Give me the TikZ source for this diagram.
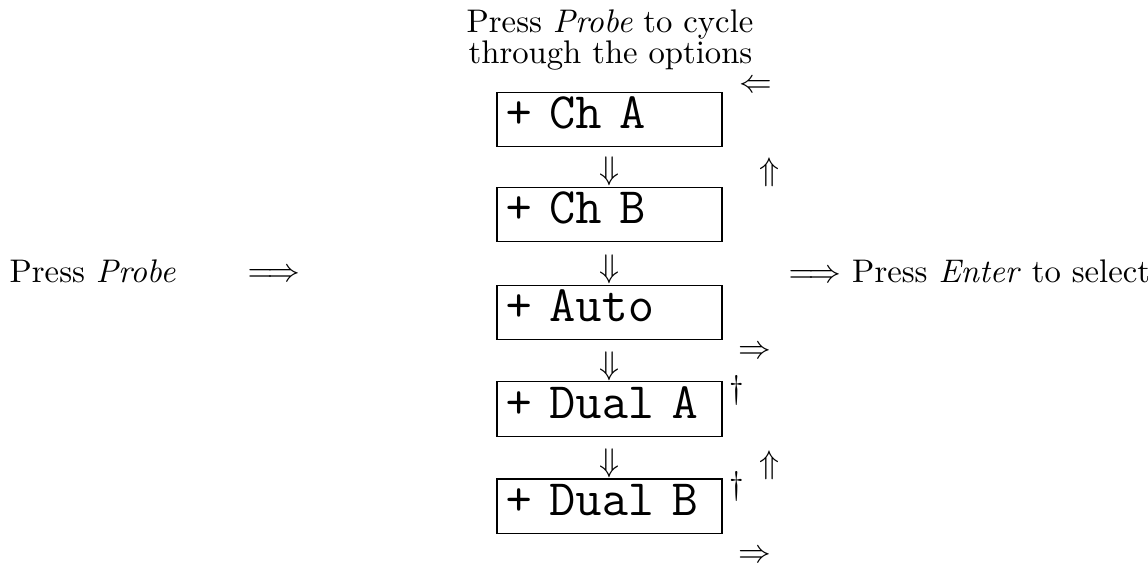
\documentclass[tikz,border=0pt]{standalone}
\font\optfont=cmtt12 at 15.6pt
\begin{document}
\begin{tikzpicture}[x=0.3058pt,y=-0.3058pt,
  optbox/.style={draw, line width=0.4pt, minimum width=68.8pt, minimum height=16.67pt,
    text width=63.6pt, inner xsep=2.6pt, inner ysep=0pt, align=left,
    font=\optfont, text height=9pt, text depth=3.2pt},
  sym/.style={inner sep=0pt},
  lbl/.style={inner sep=0pt}]
\useasboundingbox (0,0) rectangle (1148,568);
% title (two lines)
\node[lbl, anchor=base] (title1) at (610,32) {Press \emph{Probe} to cycle};
\node[lbl, anchor=base] (title2) at (610.5,63.3) {through the options};
% option boxes
\node[optbox] (chA) at (609.5,119.5) {+ Ch A};
\node[optbox] (chB) at (609.5,214.5) {+ Ch B};
\node[optbox] (auto) at (609.5,312.5) {+ Auto};
\node[optbox] (dualA) at (609.5,409) {+ Dual A};
\node[optbox] (dualB) at (609.5,506.3) {+ Dual B};
% down arrows
\node[sym, anchor=south] (d1) at (chB.north) {$\Downarrow$};
\node[sym, anchor=south] (d2) at (auto.north) {$\Downarrow$};
\node[sym, anchor=south] (d3) at (dualA.north) {$\Downarrow$};
\node[sym, anchor=south] (d4) at (dualB.north) {$\Downarrow$};
% right-hand marks
\node[sym] (r1) at (756,86) {$\Leftarrow$};
\node[sym] (r2) at (769,172) {$\Uparrow$};
\node[sym] (r3) at (755,352) {$\Rightarrow$};
\node[sym] (dg1) at (737,390) {$\dag$};
\node[sym] (r4) at (769,465) {$\Uparrow$};
\node[sym] (dg2) at (737,486) {$\dag$};
\node[sym] (r5) at (755,556) {$\Rightarrow$};
% left and right texts
\node[lbl, anchor=base west] (pp) at (9,282) {Press \emph{Probe}};
\node[sym] (la) at (274,275.5) {$\Longrightarrow$};
\node[lbl, anchor=base west] (pe) at (788,282) {$\Longrightarrow$ Press \emph{Enter} to select};
\end{tikzpicture}
\end{document}
